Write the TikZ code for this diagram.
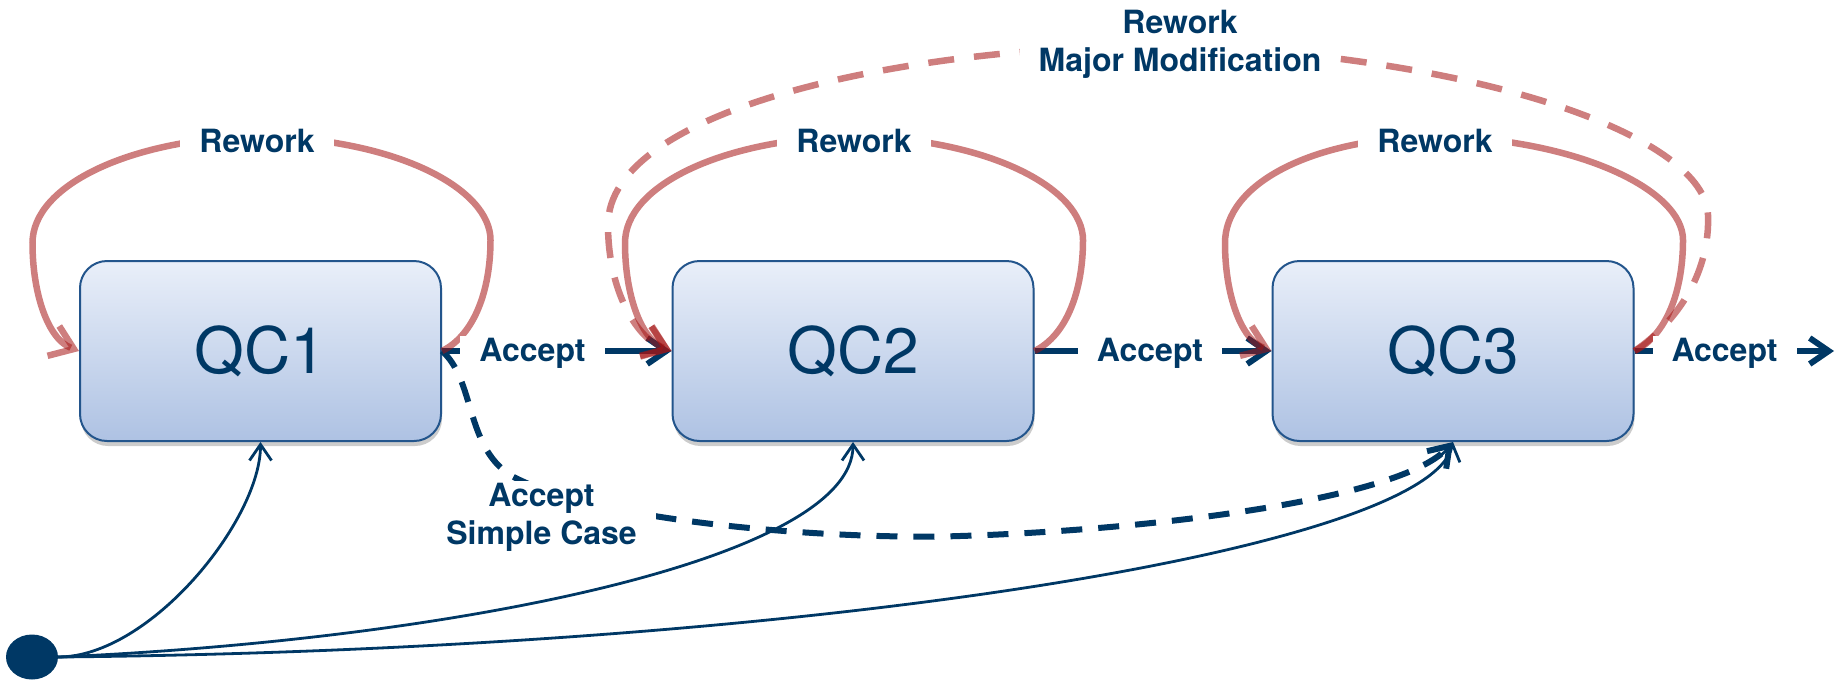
\documentclass[tikz,border=0pt]{standalone}
\usepackage{fontspec}
\setmainfont{TeX Gyre Heros}
\usetikzlibrary{arrows.meta,shapes.geometric,shadows}
\definecolor{navy}{RGB}{0,56,101}
\definecolor{boxline}{RGB}{35,85,140}
\definecolor{boxtop}{RGB}{233,239,249}
\definecolor{boxbot}{RGB}{174,194,227}
\definecolor{reworkred}{RGB}{165,20,20}
\begin{document}
\begin{tikzpicture}[x=1pt,y=-1pt,
  qc/.style={draw=boxline,line width=2pt,rounded corners=27pt,minimum width=361pt,minimum height=180pt,
    top color=boxtop,bottom color=boxbot,text=navy,font=\fontsize{64}{70}\selectfont,
    drop shadow={shadow xshift=1pt,shadow yshift=-5pt,opacity=0.2,fill=black}},
  lbl/.style={fill=white,text=navy,font=\bfseries\fontsize{32}{38}\selectfont,align=center,inner xsep=19pt,inner ysep=2pt},
  acc/.style={draw=navy,line width=6pt,-{Straight Barb[length=19pt,width=26pt]}},
  thinarrow/.style={draw=navy,line width=2.8pt,-{Straight Barb[length=16pt,width=22pt]}},
  simple/.style={draw=navy,line width=6pt,dash pattern=on 21pt off 16pt,-{Straight Barb[length=19pt,width=26pt]}},
  reworkline/.style={draw=reworkred,draw opacity=0.55,line width=6.5pt,-{Straight Barb[length=22pt,width=32pt]}},
  majorline/.style={reworkline,dash pattern=on 26pt off 20pt},
]
\useasboundingbox (0,0) rectangle (1843,681);

% boxes
\node[qc] (qc1) at (260.5,351) {QC1};
\node[qc] (qc2) at (853,351) {QC2};
\node[qc] (qc3) at (1453,351) {QC3};
\node[fill=navy,ellipse,minimum width=52pt,minimum height=45pt,inner sep=0pt] (start) at (32,657) {};
\coordinate (out) at (1834,351);

% thin arrows from start
\draw[thinarrow] (start.east) .. controls (150,657) and (260.5,520) .. (qc1.south);
\draw[thinarrow] (start.east) .. controls (450,640) and (853,560) .. (qc2.south);
\draw[thinarrow] (start.east) .. controls (800,650) and (1430,550) .. (qc3.south);

% accept arrows
\draw[acc] (qc1.east) -- (qc2.west);
\draw[acc] (qc2.east) -- (qc3.west);
\draw[acc] (qc3.east) -- (out);

% accept simple case
\draw[simple] (qc1.east) .. controls (475,380) and (465,445) .. (510,475)
  .. controls (600,525) and (850,540) .. (960,536)
  .. controls (1150,530) and (1400,500) .. (qc3.south);

% rework loops
\begin{scope}[shift={(qc1.center)}]
\draw[reworkline] (qc1.east) .. controls (214,-16) and (230,-61) .. (230,-111)
  .. controls (230,-161) and (140,-212) .. (-3,-215)
  .. controls (-130,-212) and (-228,-166) .. (-228,-108)
  .. controls (-228,-56) and (-212,-12) .. (qc1.west);
\end{scope}
\begin{scope}[shift={(qc2.center)}]
\draw[reworkline] (qc2.east) .. controls (214,-16) and (230,-61) .. (230,-111)
  .. controls (230,-161) and (140,-212) .. (0,-215)
  .. controls (-130,-212) and (-228,-166) .. (-228,-108)
  .. controls (-228,-56) and (-212,-12) .. (qc2.west);
\end{scope}
\begin{scope}[shift={(qc3.center)}]
\draw[reworkline] (qc3.east) .. controls (214,-16) and (230,-61) .. (230,-111)
  .. controls (230,-161) and (125,-212) .. (-18,-215)
  .. controls (-145,-212) and (-228,-166) .. (-228,-108)
  .. controls (-228,-56) and (-212,-12) .. (qc3.west);
\end{scope}

% major modification loop
\draw[majorline] (qc3.east) .. controls (1680,320) and (1710,270) .. (1708,215)
  .. controls (1705,140) and (1500,60) .. (1180,45)
  .. controls (900,45) and (608,110) .. (608,225)
  .. controls (608,290) and (636,338) .. (qc2.west);

% labels
\node[lbl] (r1) at (257,140.5) {Rework};
\node[lbl] (r2) at (854,141) {Rework};
\node[lbl] (r3) at (1435,141) {Rework};
\node[lbl] (rm) at (1180,44) {Rework\\Major Modification};
\node[lbl] (a1) at (532.5,353.5) {Accept};
\node[lbl] (a2) at (1150,353.5) {Accept};
\node[lbl] (a3) at (1724.5,353.5) {Accept};
\node[lbl] (as) at (541.5,517) {Accept\\Simple Case};
\end{tikzpicture}
\end{document}
